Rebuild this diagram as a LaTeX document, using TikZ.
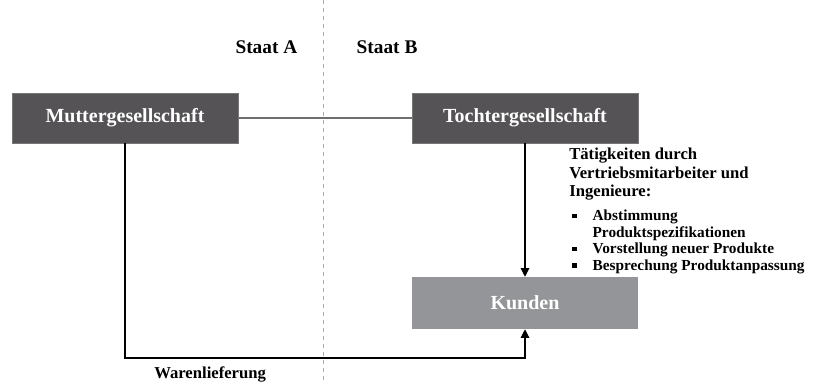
\documentclass[tikz,border=0pt]{standalone}
\usepackage{fontspec}
\setmainfont{Liberation Serif}
\usetikzlibrary{arrows.meta, positioning}
\definecolor{boxdark}{RGB}{85,83,85}
\definecolor{boxlight}{RGB}{147,149,152}
\definecolor{linegray}{RGB}{110,110,110}
\definecolor{sepgray}{RGB}{170,170,170}
\tikzset{
  darkbox/.style={rectangle, fill=boxdark, draw=boxdark!80!white, text=white,
    font=\bfseries\fontsize{15}{17}\selectfont, minimum width=169.5pt, minimum height=37.5pt},
  lightbox/.style={rectangle, fill=boxlight, text=white,
    font=\bfseries\fontsize{15}{17}\selectfont, minimum width=169.5pt, minimum height=39pt},
  arrow/.style={-{Triangle[length=6.5pt,width=6.5pt]}, line width=0.8pt, color=black},
  line/.style={line width=0.8pt, color=linegray},
  label/.style={font=\bfseries\fontsize{14.5}{16}\selectfont}
}
\newcommand{\sqbullet}{\raisebox{2pt}{\rule{3.5pt}{3.5pt}}}
\begin{document}
\begin{tikzpicture}[x=0.75pt, y=-0.75pt]
  \useasboundingbox (0,0) rectangle (814,383);
  % Border between states
  \coordinate (septop) at (323,0);
  \coordinate (sepbot) at (323,383);
  \draw[sepgray, dashed, line width=0.5pt] (septop) -- (sepbot);
  \node[label, anchor=east] (staatA) at (302,47) {Staat A};
  \node[label, anchor=west] (staatB) at (352,47) {Staat B};
  % Companies
  \node[darkbox] (mutter) at (125,118) {Muttergesellschaft};
  \node[darkbox] (tochter) at (525,118) {Tochtergesellschaft};
  \node[lightbox] (kunden) at (525,303) {Kunden};
  % Connections
  \draw[line] (mutter) -- (tochter);
  \draw[arrow] (tochter) -- (kunden);
  \coordinate (corner) at (125,358);
  \draw[arrow] (mutter) |- (corner) -| (kunden);
  \node[anchor=north west, inner sep=0pt, font=\bfseries\fontsize{12.5}{14}\selectfont]
    (ware) at (154,366) {Warenlieferung};
  % Activities
  \node[anchor=north west, inner sep=0pt, align=left,
    font=\bfseries\fontsize{12.5}{13.8}\selectfont] (taet) at (569,148)
    {Tätigkeiten durch\\Vertriebsmitarbeiter und\\Ingenieure:};
  \node[anchor=north west, inner sep=0pt,
    font=\bfseries\fontsize{11.5}{12.4}\selectfont] (liste) at (569,209)
    {\renewcommand{\arraystretch}{1}%
     \begin{tabular}{@{\hspace{2pt}}l@{\hspace{12pt}}l@{}}
      \sqbullet & Abstimmung\\
                & Produktspezifikationen\\
      \sqbullet & Vorstellung neuer Produkte\\
      \sqbullet & Besprechung Produktanpassung
     \end{tabular}};
\end{tikzpicture}
\end{document}
